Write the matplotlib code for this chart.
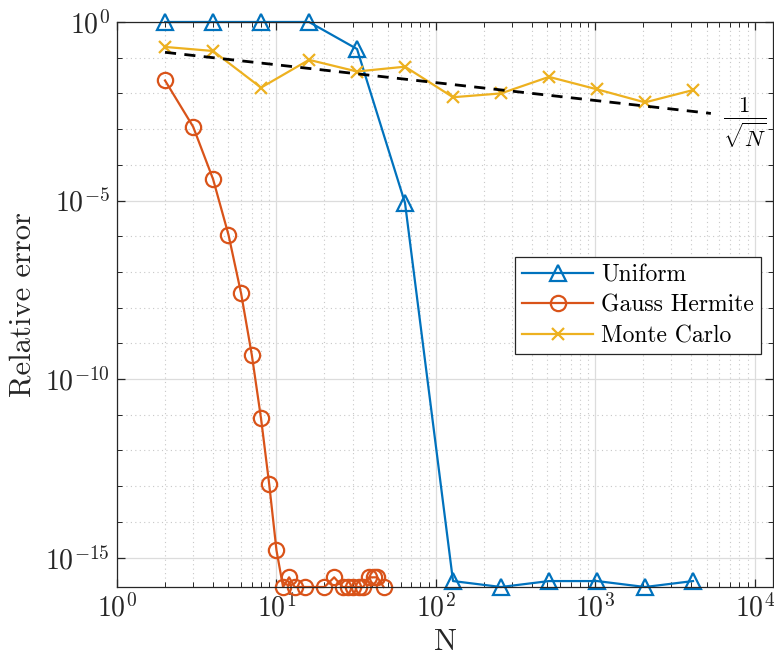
import numpy as np
import matplotlib
matplotlib.use("Agg")
import matplotlib.pyplot as plt
from matplotlib.ticker import FixedLocator, LogLocator, NullFormatter

plt.rcParams['font.family'] = 'serif'
plt.rcParams['font.serif'] = ['cmr10']
plt.rcParams['mathtext.fontset'] = 'cm'
plt.rcParams['axes.formatter.use_mathtext'] = True

# data
N_uni = [2, 4, 8, 16, 32, 64, 128, 256, 512, 1024, 2048, 4096]
err_uni = [1.0, 1.0, 1.0, 1.0, 0.175, 8.5e-6, 2.2e-16, 1.5e-16, 2.2e-16, 2.2e-16, 1.5e-16, 2.2e-16]

N_gh = [2, 3, 4, 5, 6, 7, 8, 9, 10, 11, 12, 13, 15, 20, 23, 26, 28, 30, 33, 35, 38, 41, 43, 47]
err_gh = [0.023, 1.17e-3, 4e-5, 1.1e-6, 2.5e-8, 4.8e-10, 7.9e-12, 1.15e-13, 1.6e-15,
          1.5e-16, 2.8e-16, 1.5e-16, 1.5e-16, 1.5e-16, 2.8e-16, 1.5e-16, 1.5e-16,
          1.5e-16, 1.5e-16, 1.5e-16, 2.8e-16, 2.8e-16, 2.8e-16, 1.5e-16]

N_mc = [2, 4, 8, 16, 32, 64, 128, 256, 512, 1024, 2048, 4096]
err_mc = [0.2, 0.154, 0.0145, 0.087, 0.041, 0.056, 0.0078, 0.010, 0.029, 0.013, 0.0056, 0.0124]

# reference slope 1/sqrt(N)
N_ref = np.array([2, 5300])
ref_scale = 0.2

fig = plt.figure(figsize=(7.74, 6.6), dpi=100)
ax = fig.add_axes([0.1512, 0.1106, 0.8475, 0.8561])

kw = dict(lw=1.6, mew=1.6, clip_on=False)
ax.loglog(N_uni, err_uni, '-^', color='#0072BD', ms=11, mfc='none', label='Uniform', **kw)
ax.loglog(N_gh, err_gh, '-o', color='#D95319', ms=11, mfc='none', label='Gauss Hermite', **kw)
ax.loglog(N_mc, err_mc, '-x', color='#EDB120', ms=9, label='Monte Carlo', **kw)
ax.loglog(N_ref, ref_scale / np.sqrt(N_ref), '--', color='black', lw=2, dashes=(4, 3))

ax.text(8700, 1.5e-3, r'$\frac{1}{\sqrt{N}}$', fontsize=23, ha='center', va='center')

ax.set_xlim(1, 1.3e4)
ax.set_ylim(1.5e-16, 1.0)

ax.yaxis.set_major_locator(FixedLocator([1e-15, 1e-10, 1e-5, 1.0]))
ax.yaxis.set_minor_locator(FixedLocator([10.0 ** -k for k in range(16)]))
ax.yaxis.set_minor_formatter(NullFormatter())
ax.xaxis.set_major_locator(LogLocator(base=10, numticks=10))
ax.xaxis.set_minor_locator(LogLocator(base=10, subs=np.arange(2, 10), numticks=20))
ax.xaxis.set_minor_formatter(NullFormatter())

ax.grid(True, which='major', color='#dcdcdc', lw=0.9, ls='-')
ax.grid(True, which='minor', color='#c8c8c8', lw=0.8, ls=(0, (1, 3)))
ax.set_axisbelow(True)

ax.tick_params(which='both', direction='in', top=True, right=True, labelsize=20, colors='#262626')
ax.tick_params(which='major', length=6, width=0.9, pad=5)
ax.tick_params(which='minor', length=3.5, width=0.7)
for sp in ax.spines.values():
    sp.set_color('#262626')
    sp.set_linewidth(0.9)

ax.set_xlabel('N', fontsize=22, color='#262626', labelpad=4)
ax.set_ylabel('Relative error', fontsize=22, color='#262626', labelpad=6)

leg = ax.legend(loc='upper left', bbox_to_anchor=(0.607, 0.584), borderaxespad=0,
                fontsize=17, handlelength=3.0, handletextpad=0.35, fancybox=False, framealpha=1,
                edgecolor='#262626', borderpad=0.3, labelspacing=0.35)
leg.get_frame().set_linewidth(0.9)

fig.savefig('out.png', dpi=100)
